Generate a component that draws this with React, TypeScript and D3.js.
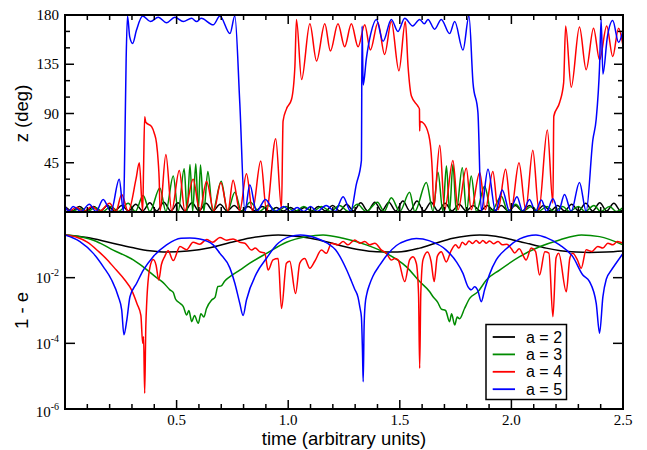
import React from 'react';
import * as d3 from 'd3';

type P = [number, number];

// ---- legend / series ----
const seriesNames = ['a = 2', 'a = 3', 'a = 4', 'a = 5'];
const seriesColors = ['#000000', '#008b00', '#ff0000', '#0000ff'];

// ---- x ticks ----
const xTickLabels = ['0.5', '1.0', '1.5', '2.0', '2.5'];
const xTickValues = [0.5, 1.0, 1.5, 2.0, 2.5];
// ---- top panel y ticks ----
const zTickValues = [45, 90, 135, 180];
// ---- bottom panel y ticks (powers of ten) ----
const eTickExps = [-6, -4, -2];

// ---- top panel: z (deg) vs time ----
const blackZ: P[] = [[0,5],[0.033,1],[0.065,5],[0.096,1],[0.128,5],[0.159,1],[0.191,6],[0.222,1],[0.254,6],[0.285,1],[0.317,7],[0.348,1],[0.38,8.5],[0.411,1],[0.443,9],[0.474,1],[0.506,8.5],[0.537,1],[0.569,8.5],[0.6,1],[0.632,8],[0.663,1],[0.695,7],[0.726,1],[0.758,6],[0.789,1],[0.821,5],[0.852,1],[0.884,5],[0.915,1],[0.947,4],[0.978,1],[1.01,4],[1.041,1],[1.073,4],[1.104,1],[1.136,5],[1.167,1],[1.199,6],[1.23,1],[1.262,7],[1.293,1],[1.325,8.5],[1.356,1],[1.388,9],[1.419,1],[1.451,9],[1.482,1],[1.514,10],[1.545,1],[1.577,10],[1.608,1],[1.64,9],[1.671,1],[1.703,8],[1.734,1],[1.766,7],[1.797,1],[1.829,6],[1.86,1],[1.892,6],[1.923,1],[1.955,6],[1.986,1],[2.018,6],[2.049,1],[2.081,6],[2.112,1],[2.144,6],[2.175,1],[2.207,6],[2.238,1],[2.27,7],[2.301,1],[2.333,8],[2.364,1],[2.396,8.5],[2.427,1],[2.459,8],[2.49,1],[2.5,2]];

const greenZ: P[] = [[0,3],[0.03,0.5],[0.065,3],[0.1,0.5],[0.135,4],[0.17,0.5],[0.205,5],[0.24,0.5],[0.283,8],[0.315,0.5],[0.35,15],[0.38,0.5],[0.425,22],[0.452,0.5],[0.485,33],[0.507,0.5],[0.534,39.5],[0.547,0.5],[0.56,43.5],[0.572,0.5],[0.586,44],[0.597,0.5],[0.607,43],[0.622,0.5],[0.64,37],[0.662,0.5],[0.7,28],[0.728,0.5],[0.761,18],[0.791,0.5],[0.83,9],[0.87,0.5],[0.91,6],[0.95,0.5],[0.99,5],[1.03,0.5],[1.07,5],[1.11,0.5],[1.15,5],[1.19,0.5],[1.23,6],[1.27,0.5],[1.31,7],[1.35,0.5],[1.4,9],[1.43,0.5],[1.462,13],[1.5,0.5],[1.544,18],[1.567,0.5],[1.619,27],[1.649,0.5],[1.671,36.4],[1.693,0.5],[1.709,42],[1.723,0.5],[1.738,43.5],[1.753,0.5],[1.78,40.4],[1.799,0.5],[1.82,33],[1.843,0.5],[1.88,23.6],[1.91,0.5],[1.955,14.5],[1.984,0.5],[2.02,7],[2.05,0.5],[2.09,5],[2.12,0.5],[2.16,5],[2.19,0.5],[2.23,5],[2.26,0.5],[2.3,5],[2.33,0.5],[2.37,6],[2.4,0.5],[2.44,5],[2.47,0.5],[2.5,4]];

const redZ: P[] = [[0,4],[0.02,1],[0.05,4],[0.085,0.5],[0.12,5],[0.155,0.5],[0.2,8],[0.228,0.5],[0.254,16],[0.283,0.5],[0.318,30],[0.333,45],[0.348,0.5],[0.352,40],[0.357,87],[0.362,82],[0.388,78],[0.4,72],[0.41,63],[0.418,45],[0.422,30],[0.426,1],[0.452,52.6],[0.478,1],[0.512,38],[0.537,1],[0.574,30],[0.604,1],[0.634,28],[0.667,1],[0.698,27],[0.73,1],[0.753,29],[0.783,1],[0.813,35],[0.84,1],[0.877,46.5],[0.903,1],[0.944,67],[0.97,3],[0.977,83],[0.992,94],[1.015,103],[1.03,133],[1.037,176],[1.06,121],[1.097,172],[1.127,138],[1.164,172],[1.189,147],[1.223,172],[1.253,151],[1.283,172],[1.313,151],[1.343,171],[1.368,148],[1.402,173],[1.432,144],[1.462,174],[1.496,129],[1.525,174],[1.537,133],[1.552,106],[1.581,96.7],[1.588,94],[1.589,74],[1.591,83],[1.611,80],[1.634,66],[1.646,36],[1.652,5],[1.679,61],[1.701,2],[1.738,47],[1.761,2],[1.798,40],[1.82,2],[1.858,36],[1.883,2],[1.917,37],[1.94,2],[1.974,39],[1.999,2],[2.034,45],[2.064,2],[2.096,56.5],[2.123,2],[2.161,75],[2.186,8],[2.19,87.5],[2.216,100],[2.234,118],[2.243,170],[2.268,114],[2.305,169],[2.335,130],[2.368,168],[2.395,139],[2.427,170],[2.454,142],[2.48,168],[2.5,152]];

const blueZ: P[] = [[0,5],[0.018,1],[0.036,5],[0.072,0.5],[0.109,7],[0.139,0.5],[0.171,11.5],[0.206,0.5],[0.243,30],[0.262,0.5],[0.268,60],[0.274,140],[0.28,179],[0.29,160],[0.303,154],[0.32,166],[0.348,179],[0.383,174],[0.418,178],[0.455,173],[0.492,178],[0.53,174],[0.567,177],[0.59,174],[0.61,177],[0.664,171],[0.694,179],[0.739,163],[0.761,179],[0.783,100],[0.806,0.5],[0.828,25],[0.858,0.5],[0.898,11.5],[0.94,0.5],[0.98,5],[1.01,0.5],[1.04,4],[1.07,0.5],[1.1,5],[1.13,0.5],[1.17,6],[1.21,0.5],[1.246,14],[1.28,0.5],[1.305,25],[1.328,47],[1.331,170],[1.336,116],[1.35,140],[1.37,163],[1.395,176],[1.425,156],[1.462,176],[1.492,165],[1.522,177],[1.558,170],[1.589,176],[1.61,172],[1.626,176],[1.656,167],[1.686,176],[1.723,163],[1.746,174],[1.783,148],[1.81,179],[1.828,118],[1.85,91],[1.865,1],[1.895,39],[1.929,0.5],[1.959,20],[1.992,0.5],[2.025,14],[2.051,0.5],[2.081,11.5],[2.108,0.5],[2.134,11],[2.158,0.5],[2.186,12],[2.211,0.5],[2.238,16],[2.268,0.5],[2.305,27],[2.335,0.5],[2.365,66],[2.38,85],[2.395,133],[2.402,176],[2.41,126],[2.43,160],[2.454,175],[2.48,155],[2.5,166]];

// ---- bottom panel: log10(1 - e) vs time ----
const blackE: P[] = [[0,-0.7],[0.1,-0.78],[0.2,-0.93],[0.3,-1.08],[0.38,-1.18],[0.455,-1.22],[0.55,-1.19],[0.649,-1.09],[0.74,-0.93],[0.83,-0.79],[0.9,-0.72],[0.955,-0.7],[1.02,-0.73],[1.1,-0.8],[1.18,-0.92],[1.246,-1.04],[1.32,-1.15],[1.395,-1.21],[1.49,-1.22],[1.589,-1.1],[1.66,-0.95],[1.738,-0.8],[1.8,-0.73],[1.858,-0.7],[1.93,-0.74],[2.007,-0.85],[2.08,-0.97],[2.156,-1.1],[2.22,-1.18],[2.29,-1.22],[2.35,-1.23],[2.425,-1.22],[2.5,-1.19]];

const greenE: P[] = [[0,-0.7],[0.04,-0.72],[0.08,-0.77],[0.127,-0.86],[0.157,-0.95],[0.216,-1.16],[0.27,-1.33],[0.306,-1.46],[0.35,-1.67],[0.41,-2.0],[0.44,-2.15],[0.47,-2.37],[0.485,-2.45],[0.495,-2.65],[0.515,-2.78],[0.53,-2.88],[0.545,-3.14],[0.555,-3.0],[0.568,-3.34],[0.58,-3.15],[0.597,-3.39],[0.609,-3.1],[0.622,-3.2],[0.634,-2.94],[0.657,-2.68],[0.672,-2.6],[0.685,-2.27],[0.7,-2.25],[0.716,-2.1],[0.739,-1.97],[0.783,-1.77],[0.828,-1.56],[0.903,-1.26],[0.992,-0.92],[1.082,-0.75],[1.156,-0.7],[1.246,-0.8],[1.35,-1.0],[1.44,-1.26],[1.53,-1.67],[1.589,-2.12],[1.634,-2.43],[1.649,-2.58],[1.67,-2.75],[1.686,-2.96],[1.705,-3.0],[1.723,-3.34],[1.732,-3.1],[1.746,-3.44],[1.757,-3.2],[1.768,-3.25],[1.79,-2.94],[1.813,-2.63],[1.85,-2.43],[1.888,-2.07],[1.947,-1.77],[2.037,-1.36],[2.126,-1.06],[2.216,-0.85],[2.314,-0.7],[2.395,-0.75],[2.5,-1.0]];

const redE: P[] = [[0,-0.7],[0.05,-0.76],[0.1,-0.92],[0.15,-1.2],[0.19,-1.46],[0.23,-1.77],[0.268,-2.07],[0.298,-2.37],[0.323,-2.8],[0.34,-3.15],[0.348,-4.0],[0.352,-3.8],[0.357,-5.52],[0.362,-3.5],[0.366,-2.78],[0.38,-1.7],[0.395,-1.45],[0.408,-1.62],[0.42,-2.07],[0.432,-1.6],[0.447,-1.35],[0.462,-1.18],[0.485,-1.48],[0.515,-1.05],[0.545,-1.15],[0.574,-0.92],[0.604,-0.98],[0.634,-0.84],[0.662,-0.92],[0.694,-0.78],[0.724,-0.86],[0.753,-0.82],[0.783,-0.92],[0.806,-0.95],[0.836,-1.16],[0.852,-1.1],[0.875,-1.22],[0.895,-1.25],[0.91,-1.77],[0.932,-1.46],[0.955,-1.42],[0.97,-2.94],[0.992,-1.56],[1.007,-1.5],[1.033,-2.48],[1.052,-1.56],[1.074,-1.42],[1.097,-1.71],[1.119,-1.5],[1.149,-1.16],[1.171,-1.26],[1.194,-0.95],[1.223,-1.0],[1.246,-0.9],[1.268,-1.0],[1.298,-0.85],[1.321,-0.95],[1.343,-0.9],[1.365,-1.0],[1.388,-0.95],[1.418,-1.16],[1.44,-1.26],[1.462,-1.46],[1.477,-1.42],[1.492,-1.46],[1.522,-2.12],[1.544,-1.46],[1.559,-1.36],[1.574,-1.56],[1.584,-2.5],[1.589,-4.76],[1.594,-2.5],[1.604,-1.45],[1.624,-1.22],[1.64,-1.5],[1.654,-2.12],[1.668,-1.35],[1.686,-1.21],[1.708,-1.52],[1.73,-1.18],[1.75,-1.0],[1.765,-1.1],[1.78,-0.92],[1.795,-1.0],[1.81,-0.88],[1.826,-0.96],[1.842,-0.87],[1.858,-0.95],[1.872,-0.87],[1.888,-0.95],[1.902,-0.88],[1.92,-0.97],[1.94,-0.9],[1.96,-1.0],[1.98,-0.98],[2.0,-1.12],[2.015,-1.25],[2.035,-1.12],[2.066,-1.46],[2.089,-1.1],[2.108,-1.2],[2.126,-1.92],[2.15,-1.21],[2.168,-1.25],[2.186,-3.19],[2.2,-1.4],[2.212,-1.26],[2.246,-2.43],[2.262,-1.4],[2.275,-1.26],[2.295,-1.45],[2.313,-1.71],[2.335,-1.15],[2.36,-1.2],[2.387,-1.05],[2.41,-1.1],[2.432,-0.95],[2.454,-1.0],[2.475,-0.9],[2.5,-0.95]];

const blueE: P[] = [[0,-0.7],[0.067,-0.9],[0.127,-1.26],[0.172,-1.67],[0.209,-2.07],[0.239,-2.58],[0.254,-2.98],[0.264,-3.74],[0.277,-3.29],[0.291,-2.58],[0.321,-2.17],[0.351,-1.77],[0.395,-1.36],[0.455,-1.0],[0.52,-0.8],[0.56,-0.79],[0.604,-0.82],[0.664,-1.0],[0.694,-1.26],[0.739,-1.71],[0.761,-2.17],[0.783,-2.78],[0.798,-3.15],[0.813,-2.68],[0.858,-1.87],[0.903,-1.41],[0.948,-1.0],[1.007,-0.75],[1.055,-0.7],[1.127,-0.8],[1.175,-0.95],[1.212,-1.15],[1.261,-1.75],[1.283,-2.1],[1.298,-2.35],[1.313,-2.6],[1.321,-2.9],[1.328,-3.2],[1.333,-4.3],[1.336,-5.17],[1.34,-3.5],[1.345,-2.8],[1.352,-2.5],[1.365,-2.2],[1.38,-1.95],[1.41,-1.62],[1.44,-1.33],[1.485,-1.02],[1.53,-0.87],[1.574,-0.81],[1.634,-0.88],[1.708,-1.16],[1.753,-1.51],[1.783,-1.87],[1.805,-2.27],[1.82,-2.37],[1.835,-2.28],[1.85,-2.4],[1.865,-2.73],[1.88,-2.37],[1.902,-1.9],[1.932,-1.46],[1.977,-1.12],[2.037,-0.82],[2.11,-0.7],[2.156,-0.78],[2.216,-1.0],[2.275,-1.36],[2.32,-1.92],[2.35,-2.12],[2.38,-2.78],[2.395,-3.69],[2.41,-2.58],[2.425,-2.05],[2.447,-1.78],[2.469,-1.56],[2.5,-1.26]];

const topSeries = [blackZ, greenZ, redZ, blueZ];
const bottomSeries = [blackE, greenE, redE, blueE];

const X0 = 65, X1 = 623, YT = 15, YM = 212, YB = 409;
const SERIF = "'Liberation Serif', 'Times New Roman', Times, serif";
const SANS = "'Liberation Sans', Arial, Helvetica, sans-serif";

export default function App() {
  const x = d3.scaleLinear().domain([0, 2.5]).range([X0, X1]);
  const yz = d3.scaleLinear().domain([0, 180]).range([YM, YT]);
  const ye = d3.scaleLog().domain([1e-6, 1]).range([YB, YM]);

  const lineZ = d3.line<P>().x(d => x(d[0])).y(d => yz(d[1])).curve(d3.curveMonotoneX);
  const lineE = d3.line<P>().x(d => x(d[0])).y(d => ye(Math.pow(10, d[1]))).curve(d3.curveMonotoneX);

  const xTicks = d3.range(1, 25).map(i => i / 10);
  const isMajorX = (v: number) => Math.abs(v * 2 - Math.round(v * 2)) < 1e-6;
  const zTicks = d3.range(15, 180, 15);
  const eMajor = [1e-4, 1e-2];

  const tickEls: React.ReactNode[] = [];
  xTicks.forEach((v, i) => {
    const len = isMajorX(v) ? 9 : 5;
    const px = x(v);
    tickEls.push(<line key={'xt' + i} x1={px} x2={px} y1={YT} y2={YT + len} />);
    tickEls.push(<line key={'xm' + i} x1={px} x2={px} y1={YM} y2={YM - len} />);
    tickEls.push(<line key={'xm2' + i} x1={px} x2={px} y1={YM} y2={YM + len} />);
    tickEls.push(<line key={'xb' + i} x1={px} x2={px} y1={YB} y2={YB - len} />);
  });
  zTicks.forEach((v, i) => {
    const len = v % 45 === 0 ? 9 : 5;
    const py = yz(v);
    tickEls.push(<line key={'zl' + i} x1={X0} x2={X0 + len} y1={py} y2={py} />);
    tickEls.push(<line key={'zr' + i} x1={X1} x2={X1 - len} y1={py} y2={py} />);
  });
  eMajor.forEach((v, i) => {
    const py = ye(v);
    tickEls.push(<line key={'el' + i} x1={X0} x2={X0 + 10} y1={py} y2={py} />);
    tickEls.push(<line key={'er' + i} x1={X1} x2={X1 - 10} y1={py} y2={py} />);
  });

  const serifStyle = { fontFamily: SERIF, fontSize: '15px' };
  const sansStyle = { fontFamily: SANS, fontSize: '18.5px' };

  return (
    <svg width={647} height={450} style={{ position: 'absolute', left: 0, top: 0, background: '#fff' }}>
      <defs>
        <clipPath id="clipTop"><rect x={X0} y={YT} width={X1 - X0} height={YM - YT} /></clipPath>
        <clipPath id="clipBot"><rect x={X0} y={YM} width={X1 - X0} height={YB - YM} /></clipPath>
      </defs>
      <rect x={0} y={0} width={647} height={450} fill="#fff" />
      <g clipPath="url(#clipTop)" fill="none" strokeWidth={1.5} strokeLinejoin="round">
        {topSeries.map((s, i) => (
          <path key={'t' + i} d={lineZ(s) || ''} stroke={seriesColors[i]} />
        ))}
      </g>
      <g clipPath="url(#clipBot)" fill="none" strokeWidth={1.5} strokeLinejoin="round">
        {bottomSeries.map((s, i) => (
          <path key={'b' + i} d={lineE(s) || ''} stroke={seriesColors[i]} />
        ))}
      </g>
      <g fill="none" stroke="#000" strokeWidth={2}>
        <rect x={X0} y={YT} width={X1 - X0} height={YM - YT} />
        <rect x={X0} y={YM} width={X1 - X0} height={YB - YM} />
      </g>
      <g stroke="#000" strokeWidth={1.5}>{tickEls}</g>
      <g style={serifStyle} fill="#000">
        {zTickValues.map(v => (
          <text key={'zl' + v} x={59} y={yz(v) + 5} textAnchor="end" style={serifStyle}>{v}</text>
        ))}
        {eTickExps.map(p => (
          <text key={'el' + p} x={59} y={ye(Math.pow(10, p)) + (p === -6 ? 8 : 5.5)} textAnchor="end" style={serifStyle}>
            10<tspan style={{ fontFamily: SERIF, fontSize: '10px' }} dy={-7}>{p === -6 ? '-6' : p === -4 ? '-4' : '-2'}</tspan>
          </text>
        ))}
        {xTickValues.map((v, i) => (
          <text key={'xl' + i} x={x(v)} y={425} textAnchor="middle" style={serifStyle}>{xTickLabels[i]}</text>
        ))}
      </g>
      <g fill="#000">
        <text transform={`translate(28, ${(YT + YM) / 2}) rotate(-90)`} textAnchor="middle" style={sansStyle}>z (deg)</text>
        <text transform={`translate(28, ${(YM + YB) / 2}) rotate(-90)`} textAnchor="middle" style={sansStyle}>1 - e</text>
        <text x={(X0 + X1) / 2} y={445} textAnchor="middle" style={sansStyle}>time (arbitrary units)</text>
      </g>
      <g>
        <rect x={486} y={324.5} width={80.5} height={75} fill="#fff" stroke="#000" strokeWidth={1.5} />
        {seriesNames.map((n, i) => {
          const yy = 337 + i * 17.4;
          return (
            <g key={'lg' + i}>
              <line x1={492.7} x2={515} y1={yy} y2={yy} stroke={seriesColors[i]} strokeWidth={1.8} />
              <text x={526} y={yy + 5.5} fill="#000" style={{ fontFamily: SANS, fontSize: '16px' }}>{n}</text>
            </g>
          );
        })}
      </g>
    </svg>
  );
}
